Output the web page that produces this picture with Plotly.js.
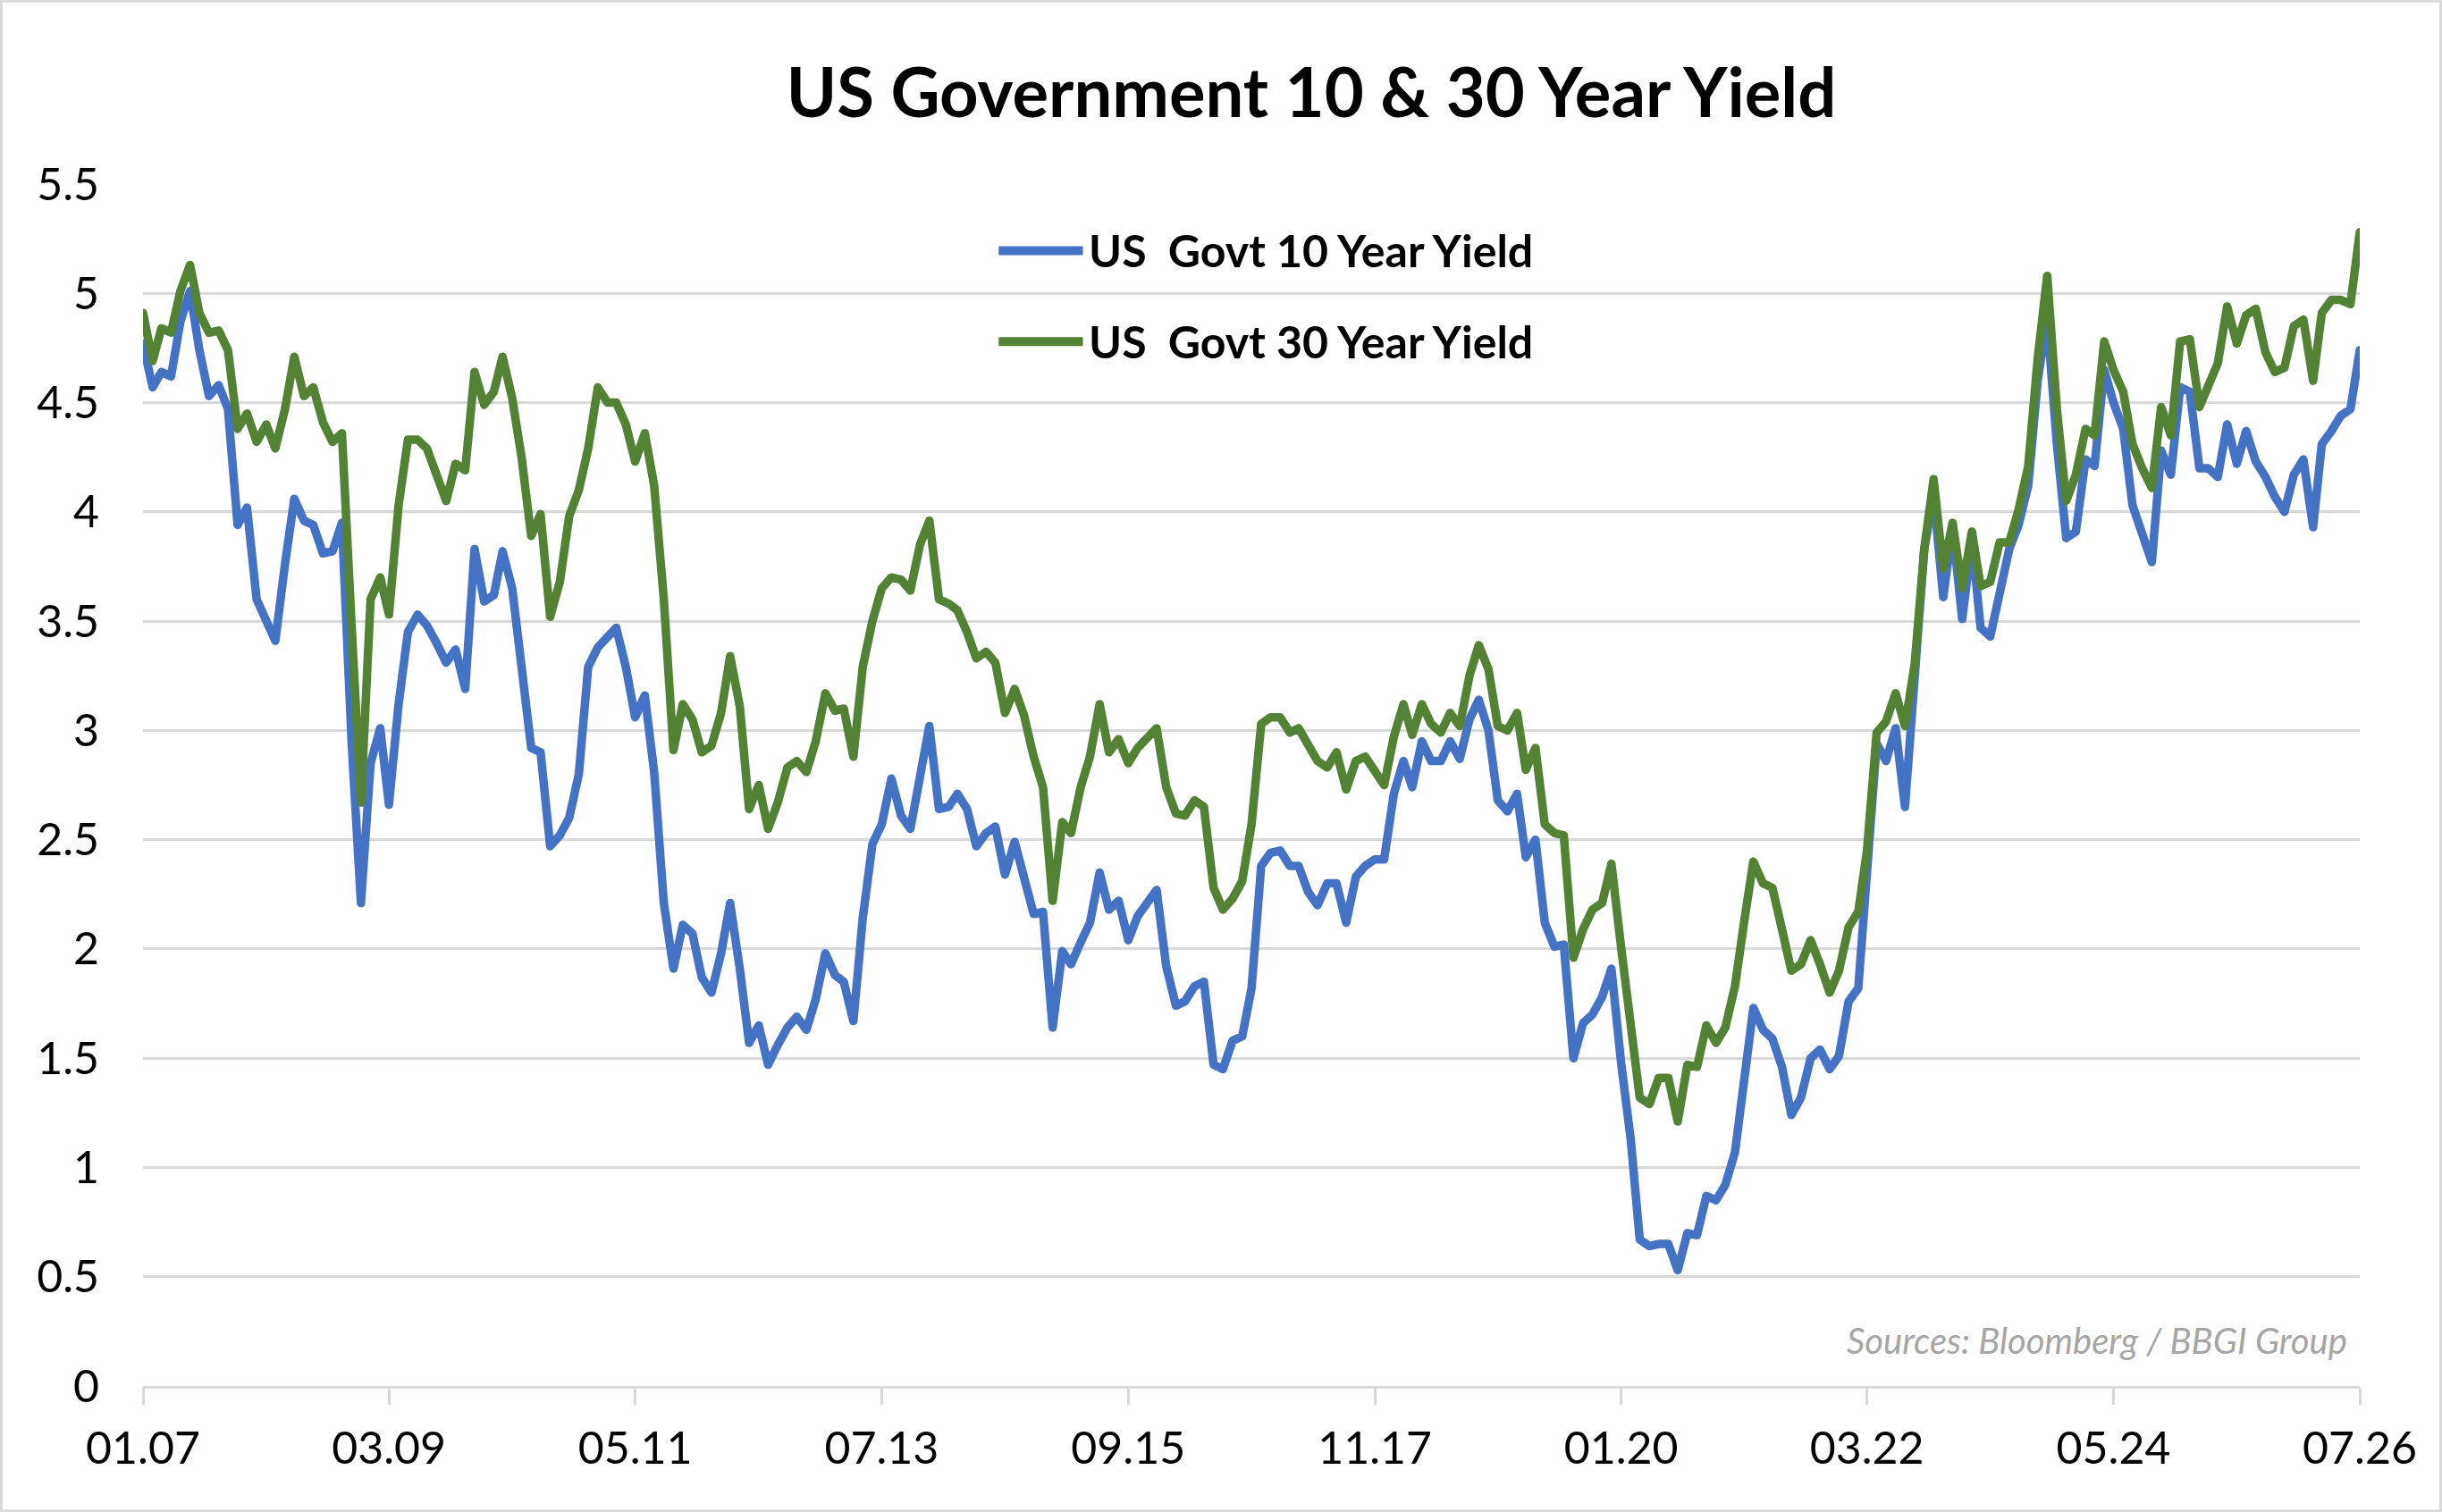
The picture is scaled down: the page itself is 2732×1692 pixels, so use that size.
<!DOCTYPE html>
<html>
<head>
<meta charset="utf-8">
<title>US Government 10 & 30 Year Yield</title>
<script src="https://cdn.plot.ly/plotly-3.0.1.min.js"></script>
<style>
  html, body { margin: 0; padding: 0; background: #FFFFFF; }
  #chart { width: 2732px; height: 1692px; }
  /* Excel-like rounded joins on the yield lines */
  #chart path.js-line { stroke-linejoin: round; stroke-linecap: round; }
</style>
</head>
<body>
<div id="chart"></div>
<script>
// Monthly observations, first month = 01.2007, last = 07.2026
const firstMonth = { year: 2007, month: 1 };

const seriesNames = ['US  Govt 10 Year Yield', 'US  Govt 30 Year Yield'];
const seriesColors = ['#4472C4', '#548235'];

// US Govt 10 Year Yield (%)
const yield10 = [
  4.77, 4.57, 4.64, 4.62, 4.87, 5.01, 4.74, 4.53, 4.58, 4.47,
  3.94, 4.02, 3.60, 3.50, 3.41, 3.76, 4.06, 3.96, 3.94, 3.81,
  3.82, 3.95, 2.95, 2.21, 2.85, 3.01, 2.66, 3.12, 3.45, 3.53,
  3.48, 3.40, 3.31, 3.37, 3.19, 3.83, 3.59, 3.62, 3.82, 3.65,
  3.30, 2.92, 2.90, 2.47, 2.52, 2.60, 2.80, 3.29, 3.38, 3.43,
  3.47, 3.29, 3.06, 3.16, 2.81, 2.21, 1.91, 2.11, 2.07, 1.87,
  1.80, 1.98, 2.21, 1.91, 1.57, 1.65, 1.47, 1.56, 1.64, 1.69,
  1.63, 1.77, 1.98, 1.88, 1.85, 1.67, 2.14, 2.48, 2.57, 2.78,
  2.61, 2.55, 2.80, 3.02, 2.64, 2.65, 2.71, 2.64, 2.47, 2.53,
  2.56, 2.34, 2.49, 2.33, 2.16, 2.17, 1.64, 1.99, 1.93, 2.03,
  2.12, 2.35, 2.18, 2.22, 2.04, 2.15, 2.21, 2.27, 1.92, 1.74,
  1.76, 1.83, 1.85, 1.47, 1.45, 1.58, 1.60, 1.82, 2.38, 2.44,
  2.45, 2.38, 2.38, 2.26, 2.20, 2.30, 2.30, 2.12, 2.33, 2.38,
  2.41, 2.41, 2.71, 2.86, 2.74, 2.95, 2.86, 2.86, 2.95, 2.87,
  3.05, 3.14, 3.00, 2.68, 2.63, 2.71, 2.42, 2.50, 2.12, 2.01,
  2.02, 1.50, 1.66, 1.70, 1.78, 1.91, 1.48, 1.13, 0.67, 0.64,
  0.65, 0.65, 0.53, 0.70, 0.69, 0.87, 0.85, 0.92, 1.07, 1.41,
  1.73, 1.63, 1.59, 1.46, 1.24, 1.32, 1.50, 1.54, 1.45, 1.51,
  1.76, 1.82, 2.39, 2.94, 2.86, 3.01, 2.65, 3.19, 3.83, 4.08,
  3.61, 3.93, 3.51, 3.87, 3.47, 3.43, 3.62, 3.83, 3.94, 4.12,
  4.61, 4.88, 4.31, 3.88, 3.91, 4.24, 4.21, 4.65, 4.50, 4.38,
  4.03, 3.90, 3.77, 4.28, 4.17, 4.57, 4.55, 4.20, 4.20, 4.16,
  4.40, 4.22, 4.37, 4.23, 4.16, 4.07, 4.00, 4.17, 4.24, 3.93,
  4.31, 4.37, 4.44, 4.47, 4.74
];

// US Govt 30 Year Yield (%)
const yield30 = [
  4.91, 4.69, 4.84, 4.82, 5.01, 5.13, 4.91, 4.82, 4.83, 4.74,
  4.38, 4.45, 4.32, 4.40, 4.29, 4.47, 4.71, 4.53, 4.57, 4.41,
  4.32, 4.36, 3.48, 2.67, 3.60, 3.70, 3.53, 4.03, 4.33, 4.33,
  4.29, 4.17, 4.05, 4.22, 4.19, 4.64, 4.49, 4.55, 4.71, 4.52,
  4.25, 3.89, 3.99, 3.52, 3.68, 3.98, 4.10, 4.29, 4.57, 4.50,
  4.50, 4.40, 4.23, 4.36, 4.12, 3.60, 2.91, 3.12, 3.05, 2.90,
  2.93, 3.08, 3.34, 3.11, 2.64, 2.75, 2.55, 2.67, 2.83, 2.86,
  2.81, 2.95, 3.17, 3.09, 3.10, 2.88, 3.29, 3.50, 3.65, 3.70,
  3.69, 3.64, 3.85, 3.96, 3.60, 3.58, 3.55, 3.45, 3.33, 3.36,
  3.31, 3.08, 3.19, 3.07, 2.88, 2.74, 2.22, 2.58, 2.53, 2.74,
  2.88, 3.12, 2.90, 2.96, 2.85, 2.92, 2.97, 3.01, 2.74, 2.62,
  2.61, 2.68, 2.65, 2.28, 2.18, 2.23, 2.31, 2.57, 3.03, 3.06,
  3.06, 2.99, 3.01, 2.94, 2.86, 2.83, 2.90, 2.73, 2.86, 2.88,
  2.82, 2.75, 2.97, 3.12, 2.98, 3.12, 3.03, 2.99, 3.08, 3.02,
  3.25, 3.39, 3.28, 3.02, 3.00, 3.08, 2.82, 2.92, 2.57, 2.53,
  2.52, 1.96, 2.09, 2.18, 2.21, 2.39, 2.01, 1.64, 1.32, 1.29,
  1.41, 1.41, 1.21, 1.47, 1.46, 1.65, 1.57, 1.64, 1.83, 2.14,
  2.40, 2.30, 2.28, 2.09, 1.90, 1.93, 2.04, 1.93, 1.80, 1.90,
  2.10, 2.17, 2.45, 2.99, 3.04, 3.17, 3.02, 3.30, 3.83, 4.15,
  3.74, 3.95, 3.65, 3.91, 3.66, 3.68, 3.86, 3.86, 4.01, 4.21,
  4.71, 5.08, 4.47, 4.05, 4.17, 4.38, 4.35, 4.78, 4.65, 4.55,
  4.31, 4.20, 4.11, 4.48, 4.35, 4.78, 4.79, 4.48, 4.57, 4.68,
  4.94, 4.77, 4.90, 4.93, 4.73, 4.64, 4.66, 4.85, 4.88, 4.60,
  4.91, 4.97, 4.97, 4.95, 5.28
];

const sourceText = 'Sources: Bloomberg / BBGI Group';

// Ticks every 26 months (01.07, 03.09, ... 07.26)
const tickStepMonths = 26;

const FONT = 'Lato, "Open Sans", "Noto Sans", sans-serif';
const GRID = '#D9D9D9';
const W = 2732, H = 1692;
const margin = { l: 160, r: 92, t: 206, b: 141 };

const monthDates = (count) => {
  const out = [];
  for (let i = 0; i < count; i++) {
    const total = firstMonth.month - 1 + i;
    const y = firstMonth.year + Math.floor(total / 12);
    const m = String((total % 12) + 1).padStart(2, '0');
    out.push(`${y}-${m}-01`);
  }
  return out;
};

const dates = monthDates(yield10.length);

const traces = [yield10, yield30].map((values, i) => ({
  x: dates,
  y: values,
  type: 'scatter',
  mode: 'lines',
  name: seriesNames[i],
  line: { color: seriesColors[i], width: 9.5 },
  hovertemplate: '%{x|%m.%y}: %{y:.2f}<extra>' + seriesNames[i] + '</extra>'
}));

// paper coords of the whole figure, used for the outer frame
const plotW = W - margin.l - margin.r;
const plotH = H - margin.t - margin.b;
const frame = {
  x0: -margin.l / plotW + 0.0006,
  x1: 1 + margin.r / plotW - 0.0006,
  y0: -margin.b / plotH + 0.001,
  y1: 1 + margin.t / plotH - 0.001
};

// Legend drawn by hand: Excel uses long line samples the Plotly legend can't do
const legendRows = [0.9447, 0.869];
const legendShapes = legendRows.map((yy, i) => ({
  type: 'line', xref: 'paper', yref: 'paper',
  x0: 0.386, x1: 0.424, y0: yy, y1: yy,
  line: { color: seriesColors[i], width: 10 }
}));
const legendLabels = legendRows.map((yy, i) => ({
  xref: 'paper', yref: 'paper', x: 0.426, y: yy,
  xanchor: 'left', yanchor: 'middle', showarrow: false,
  text: '<b>' + seriesNames[i].replace('  ', '\u00a0 ') + '</b>',
  font: { family: FONT, size: 50, color: '#000000' }
}));

const layout = {
  width: W,
  height: H,
  margin,
  paper_bgcolor: '#FFFFFF',
  plot_bgcolor: '#FFFFFF',
  showlegend: false,
  font: { family: FONT, size: 50, color: '#000000' },

  title: {
    text: '<b>US Government 10 & 30 Year Yield</b>',
    font: { family: FONT, size: 76, color: '#000000' },
    x: 0.537, xanchor: 'center',
    y: 0.9385, yanchor: 'middle'
  },

  xaxis: {
    type: 'date',
    range: [dates[0], dates[dates.length - 1]],
    tick0: dates[0],
    dtick: 'M' + tickStepMonths,
    tickformat: '%m.%y',
    showgrid: false,
    zeroline: false,
    showline: true,
    linecolor: GRID,
    linewidth: 3,
    ticks: 'outside',
    ticklen: 18,
    tickwidth: 3,
    tickcolor: GRID,
    ticklabelstandoff: 6,
    tickfont: { family: FONT, size: 50, color: '#000000' }
  },

  yaxis: {
    range: [0, 5.5],
    dtick: 0.5,
    showgrid: true,
    gridcolor: GRID,
    gridwidth: 2.5,
    zeroline: false,
    showline: false,
    ticks: '',
    ticklabelstandoff: 48,
    tickfont: { family: FONT, size: 50, color: '#000000' }
  },

  shapes: [
    ...legendShapes,
    {
      type: 'rect', xref: 'paper', yref: 'paper',
      x0: frame.x0, x1: frame.x1, y0: frame.y0, y1: frame.y1,
      line: { color: GRID, width: 3 },
      fillcolor: 'rgba(0,0,0,0)'
    }
  ],

  annotations: [
    ...legendLabels,
    {
      xref: 'paper', yref: 'paper', x: 0.995, y: 0.038,
      xanchor: 'right', yanchor: 'middle', showarrow: false,
      text: '<i>' + sourceText + '</i>',
      font: { family: FONT, size: 40, color: '#A6A6A6' }
    }
  ]
};

Plotly.newPlot('chart', traces, layout, { displayModeBar: false, responsive: false });
</script>
</body>
</html>
